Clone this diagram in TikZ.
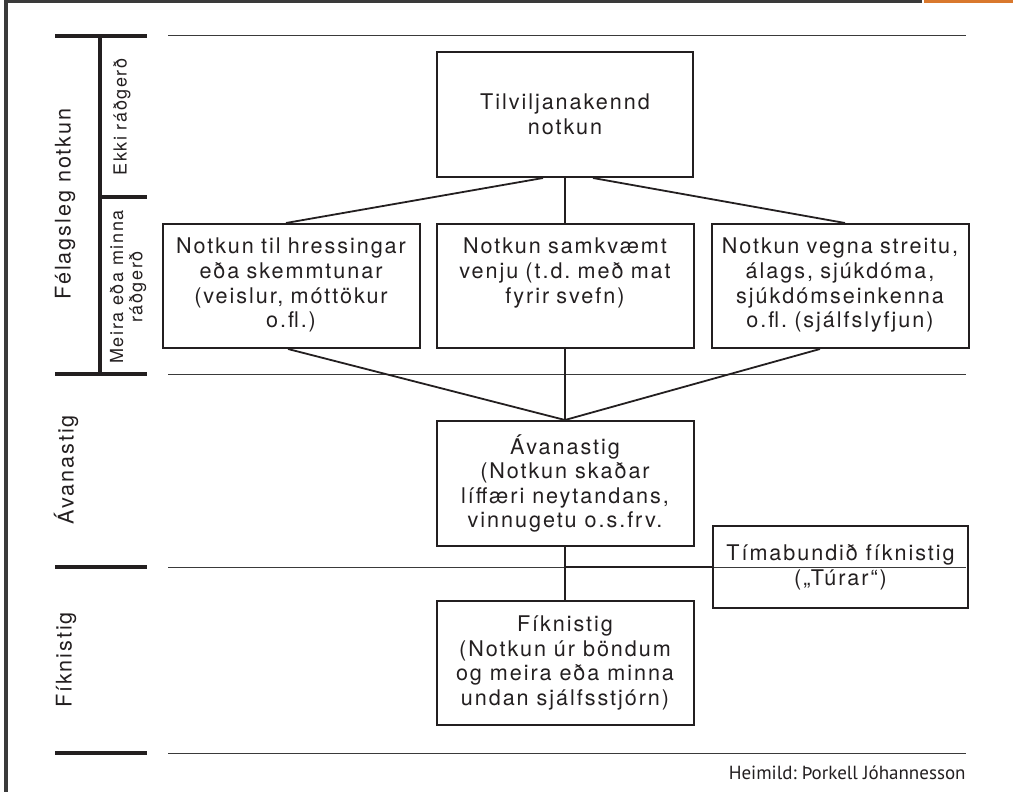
\documentclass[tikz,border=0pt]{standalone}
\usepackage{fontspec}
\usepackage{xcolor}
\usepackage{tikz}
\usetikzlibrary{positioning}
\newfontfamily\boxfont[LetterSpace=9]{TeX Gyre Heros}
\newfontfamily\notefont{PT Sans}
\definecolor{InkDark}{HTML}{231F20}
\definecolor{RuleGray}{HTML}{3A3A3A}
\definecolor{TabOrange}{HTML}{D9782D}
\frenchspacing

\begin{document}
\begin{tikzpicture}[
  x=0.5pt, y=-0.5pt,
  node distance=7.5pt,
  box/.style={draw=InkDark,line width=1pt,inner sep=0pt,align=center,text=InkDark,
    font=\boxfont\fontsize{10.8}{12.3}\selectfont},
  rowbox/.style={box,text width=128.5pt,text height=15pt,text depth=47pt},
  link/.style={draw=InkDark,line width=0.9pt},
  sep/.style={draw=RuleGray,line width=0.5pt},
  bar/.style={draw=InkDark,line width=2pt},
  side/.style={rotate=90,align=center,text=InkDark,font=\boxfont\fontsize{10.8}{12}\selectfont},
  subside/.style={side,font=\boxfont\fontsize{9}{9.6}\selectfont}
]
  \useasboundingbox (0,0) rectangle (1013,792);
  % page frame
  \draw[RuleGray,line width=2pt] (6,792) -- (6,1.5) -- (922,1.5);
  \fill[TabOrange] (924,0) rectangle (1013,3);

  % stage rules
  \foreach \y in {36,374,567,753} {
    \draw[sep] (168,\y) -- (966,\y);
    \draw[bar] (55,\y) -- (147,\y);
  }
  \draw[bar] (100,36) -- (100,374);
  \draw[bar] (100,197) -- (147,197);

  \node[side] (social) at (65,204) {Félagsleg notkun};
  \node[subside] (unplanned) at (122,117) {Ekki ráðgerð};
  \node[subside] (planned) at (128,287) {Meira eða minna\\ráðgerð};
  \node[side] (abuselbl) at (66,470) {Ávanastig};
  \node[side] (addictlbl) at (66,660) {Fíknistig};

  % boxes
  \node[rowbox] (habit) at (565,286) {Notkun samkvæmt\\venju (t.d. með mat\\fyrir svefn)};
  \node[rowbox, left=of habit] (leisure) {Notkun til hressingar\\eða skemmtunar\\(veislur, móttökur\\o.fl.)};
  \node[rowbox, right=8pt of habit] (stress) {Notkun vegna streitu,\\álags, sjúkdóma,\\sjúkdómseinkenna\\o.fl. (sjálfslyfjun)};
  \node[box, minimum width=128pt, minimum height=62.5pt, above=22.5pt of habit] (random) {Tilviljanakennd\\notkun};
  \node[box, minimum width=128.5pt, minimum height=62.5pt, below=35.5pt of habit] (abuse) {Ávanastig\\(Notkun skaðar\\líffæri neytandans,\\vinnugetu o.s.frv.};
  \node[box, minimum width=128.5pt, minimum height=62pt, below=26.5pt of abuse] (addict) {Fíknistig\\(Notkun úr böndum\\og meira eða minna\\undan sjálfsstjórn)};
  \node[box, minimum width=127.5pt, minimum height=41pt] (binge) at (840.5,567) {Tímabundið fíknistig\\(„Túrar“)};

  % connectors
  \draw[link] ([xshift=-11pt]random.south) -- ([xshift=-2.5pt]leisure.north);
  \draw[link] (random) -- (habit);
  \draw[link] ([xshift=14pt]random.south) -- ([xshift=2.5pt]stress.north);
  \draw[link] ([xshift=-1.5pt]leisure.south) -- (abuse.north);
  \draw[link] (habit) -- (abuse);
  \draw[link] ([xshift=-10pt]stress.south) -- (abuse.north);
  \draw[link] (abuse) -- (addict);
  \coordinate (split) at (abuse.south |- binge.west);
  \draw[link] (split) -- (binge);

  \node[anchor=base east, inner sep=0pt, text=InkDark, font=\notefont\fontsize{9.5}{11}\selectfont] (source) at (966,779) {Heimild: Þorkell Jóhannesson};
\end{tikzpicture}
\end{document}
